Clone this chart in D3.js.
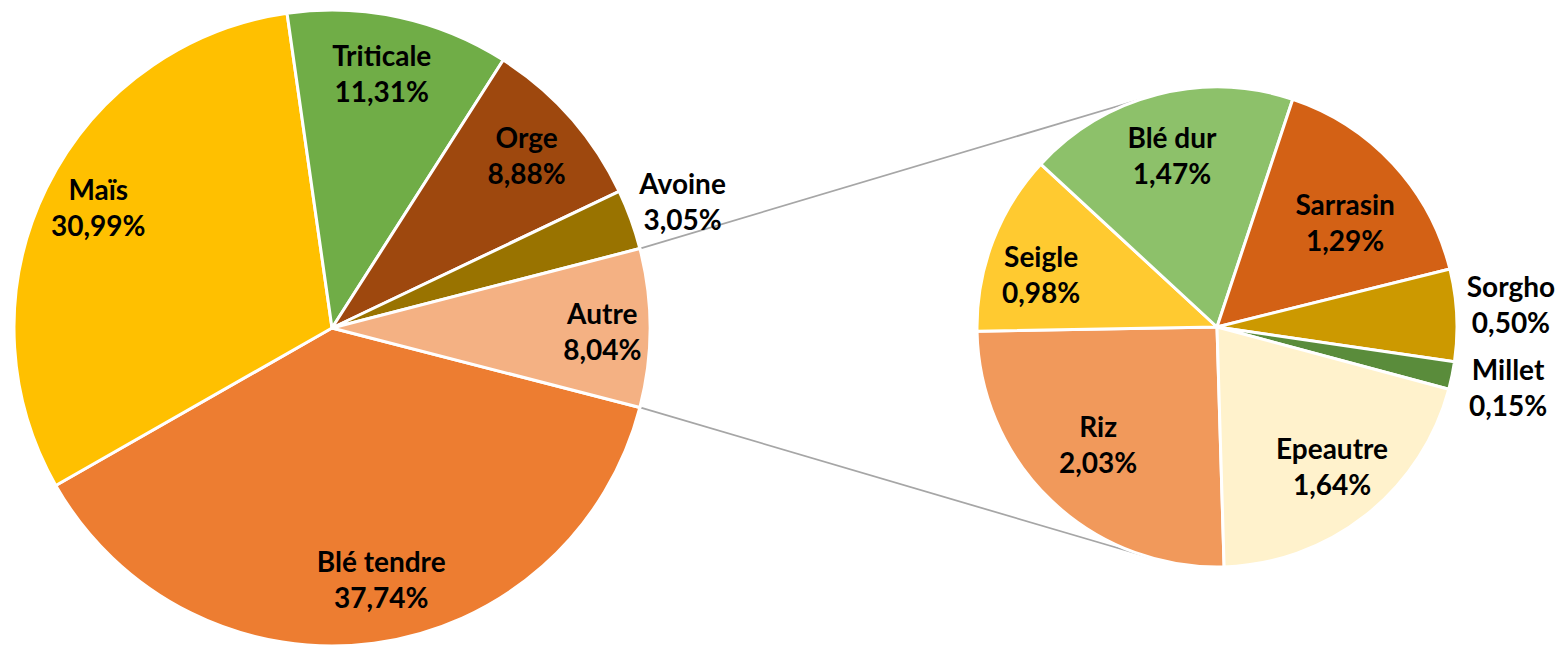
<!DOCTYPE html>
<html>
<head>
<meta charset="utf-8">
<script src="https://cdn.jsdelivr.net/npm/d3@7"></script>
<style>
  html, body { margin: 0; padding: 0; background: #fff; }
  svg { display: block; }
  .lbl { font-family: Lato, "Open Sans", sans-serif; font-weight: 700; font-size: 28px; fill: #000; }
</style>
</head>
<body>
<div id="chart"></div>
<script>
// main pie data
var mainLabels = ["Blé tendre", "Maïs", "Triticale", "Orge", "Avoine", "Autre"];
var mainValues = [37.74, 30.99, 11.31, 8.88, 3.05, 8.04];
var mainColors = ["#ED7D31", "#FFC000", "#70AD47", "#9E480E", "#997300", "#F4B183"];

// secondary pie data (breakdown of "Autre")
var subLabels = ["Riz", "Seigle", "Blé dur", "Sarrasin", "Sorgho", "Millet", "Epeautre"];
var subValues = [2.03, 0.98, 1.47, 1.29, 0.50, 0.15, 1.64];
var subColors = ["#F1995B", "#FFCA30", "#8DC16A", "#D36115", "#CC9900", "#5A8C3B", "#FFF2CC"];

// label placement: radius as fraction of pie radius, angle shift in degrees
var mainLabelR = [0.81, 0.825, 0.81, 0.815, 1.17, 0.85];
var mainLabelShift = [-3.4, 0.9, -1.1, 0.1, 0.4, 1.0];
var subLabelR = [0.70, 0.763, 0.733, 0.685, 1.228, 1.24, 0.758];
var subLabelShift = [1.4, -4.7, -0.4, 4.0, -1.3, 0.3, -0.9];

var width = 1559, height = 647;
var mainC = [332, 328], mainR = 318;
var subC = [1217, 327], subR = 240;
var subStart = 178.3 * Math.PI / 180;

var svg = d3.select("#chart").append("svg")
    .attr("width", width)
    .attr("height", height);

var mainTotal = d3.sum(mainValues);
var autreShare = mainValues[mainValues.length - 1] / mainTotal;
var mainStart = Math.PI / 2 + autreShare * Math.PI;

var mainPie = d3.pie().sort(null).value(function(d) { return d; })
    .startAngle(mainStart).endAngle(mainStart + 2 * Math.PI);
var subPie = d3.pie().sort(null).value(function(d) { return d; })
    .startAngle(subStart).endAngle(subStart + 2 * Math.PI);

var mainArcs = mainPie(mainValues);
var subArcs = subPie(subValues);

var mainArc = d3.arc().innerRadius(0).outerRadius(mainR);
var subArc = d3.arc().innerRadius(0).outerRadius(subR);

// connector lines: tangents from the "Autre" corners to the secondary pie
var autre = mainArcs[mainArcs.length - 1];
function corner(a) {
    return [mainC[0] + mainR * Math.sin(a), mainC[1] - mainR * Math.cos(a)];
}
function tangent(p, side) {
    var dx = p[0] - subC[0], dy = p[1] - subC[1];
    var d = Math.sqrt(dx * dx + dy * dy);
    var base = Math.atan2(dy, dx);
    var off = Math.acos(subR / d) * side;
    return [subC[0] + subR * Math.cos(base + off), subC[1] + subR * Math.sin(base + off)];
}
var pTop = corner(autre.startAngle), pBot = corner(autre.endAngle);
var connectors = [[pTop, tangent(pTop, 1)], [pBot, tangent(pBot, -1)]];

svg.append("g").selectAll("line")
    .data(connectors)
    .enter().append("line")
    .attr("x1", function(d) { return d[0][0]; })
    .attr("y1", function(d) { return d[0][1]; })
    .attr("x2", function(d) { return d[1][0]; })
    .attr("y2", function(d) { return d[1][1]; })
    .attr("stroke", "#A6A6A6")
    .attr("stroke-width", 1.75);

function drawPie(arcs, arcGen, center, radius, colors, labels, lr, ls) {
    var g = svg.append("g").attr("transform", "translate(" + center[0] + "," + center[1] + ")");
    g.selectAll("path")
        .data(arcs)
        .enter().append("path")
        .attr("d", arcGen)
        .attr("fill", function(d, i) { return colors[i]; })
        .attr("stroke", "#fff")
        .attr("stroke-width", 3)
        .attr("stroke-linejoin", "round");

    var lg = g.selectAll("g.lbl-g")
        .data(arcs)
        .enter().append("g")
        .attr("class", "lbl-g")
        .attr("transform", function(d, i) {
            var r = radius * lr[i];
            var a = (d.startAngle + d.endAngle) / 2 + ls[i] * Math.PI / 180;
            var c = d3.arc().innerRadius(r).outerRadius(r).startAngle(a).endAngle(a).centroid();
            return "translate(" + c[0] + "," + c[1] + ")";
        });
    lg.append("text")
        .attr("class", "lbl")
        .attr("text-anchor", "middle")
        .attr("y", -9)
        .text(function(d, i) { return labels[i]; });
    lg.append("text")
        .attr("class", "lbl")
        .attr("text-anchor", "middle")
        .attr("y", 27)
        .text(function(d) { return d3.format(".2f")(d.value).replace(".", ",") + "%"; });
}

drawPie(mainArcs, mainArc, mainC, mainR, mainColors, mainLabels, mainLabelR, mainLabelShift);
drawPie(subArcs, subArc, subC, subR, subColors, subLabels, subLabelR, subLabelShift);
</script>
</body>
</html>
